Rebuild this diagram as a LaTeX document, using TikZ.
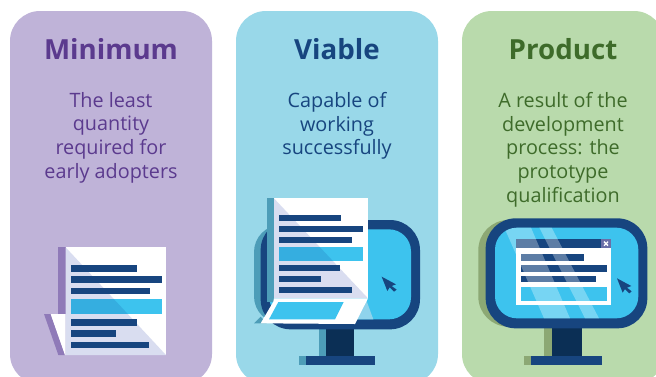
\documentclass[tikz,border=0pt]{standalone}
\usepackage{fontspec}
\setmainfont{Open Sans}
\definecolor{cardA}{HTML}{BFB3D8}
\definecolor{cardB}{HTML}{99D8E9}
\definecolor{cardC}{HTML}{B9DAAC}
\definecolor{navy}{HTML}{17457F}
\definecolor{dark}{HTML}{0B2F55}
\definecolor{cyanb}{HTML}{3DC3EE}
\definecolor{cyand}{HTML}{35AEE0}
\definecolor{palelav}{HTML}{D9DDF0}
\definecolor{stripA}{HTML}{8F7AB8}
\definecolor{shadB}{HTML}{4D9DB8}
\definecolor{shadC}{HTML}{8CA874}
\definecolor{wedge}{HTML}{8FD3EC}
\definecolor{closeb}{HTML}{6A6FA8}
\definecolor{titleA}{HTML}{5B3A8E}
\definecolor{titleC}{HTML}{3E6B2A}
\tikzset{
  card/.style={rounded corners=30pt},
  headtext/.style={font=\fontsize{27.7}{30}\selectfont\bfseries,anchor=center,inner sep=0pt},
  bodytext/.style={font=\fontsize{19.8}{23.7}\selectfont,align=center,anchor=north,inner sep=0pt},
  navybar/.style={fill=navy},
  cyanbar/.style={fill=cyanb},
  zoomA/.style={shift={(20,230)},x=0.33333pt,y=-0.33333pt},
  zoomB/.style={shift={(240,190)},x=0.33333pt,y=-0.33333pt},
  zoomC/.style={shift={(470,210)},x=0.33333pt,y=-0.33333pt},
}
\begin{document}
\begin{tikzpicture}[x=1pt,y=-1pt]
\useasboundingbox (0,0) rectangle (656,376);
\clip (0,0) rectangle (656,376);
\fill[white] (0,0) rectangle (656,376);
% cards
\fill[cardA,card] (10,11) rectangle (212,384);
\fill[cardB,card] (236,11) rectangle (438,384);
\fill[cardC,card] (462,11) rectangle (664,384);
% texts
\node[headtext,text=titleA] (t1) at (111,49) {Minimum};
\node[headtext,text=navy] (t2) at (337,49) {Viable};
\node[headtext,text=titleC] (t3) at (563,49) {Product};
\node[bodytext,text=titleA] (b1) at (111,92) {The least\\quantity\\required for\\early adopters};
\node[bodytext,text=navy] (b2) at (337,92) {Capable of\\working\\successfully};
\node[bodytext,text=titleC] (b3) at (563,92) {A result of the\\development\\process: the\\prototype\\qualification};
% document, card 1
\begin{scope}[zoomA]
\fill[stripA] (115,52) rectangle (137,252);
\fill[stripA] (72,252) -- (92,252) -- (135,375) -- (115,375) -- cycle;
\fill[white] (92,252) -- (137,252) -- (137,375) -- (135,375) -- cycle;
\fill[white] (137,52) rectangle (438,375);
\fill[palelav] (137,52) -- (438,375) -- (137,375) -- cycle;
\fill[navybar] (152,105) rectangle (352,125);
\fill[navybar] (152,139) rectangle (425,159);
\fill[navybar] (152,173) rectangle (389,193);
\fill[cyanbar] (152,207) rectangle (425,252);
\begin{scope}
\clip (137,52) -- (438,375) -- (137,375) -- cycle;
\fill[cyand] (152,207) rectangle (425,252);
\end{scope}
\fill[navybar] (152,267) rectangle (350,287);
\fill[navybar] (152,301) rectangle (288,321);
\fill[navybar] (152,335) rectangle (388,355);
\end{scope}
% monitor + document, card 2
\begin{scope}[zoomB]
\fill[shadB,rounded corners=27pt] (42,105) rectangle (300,400);
\fill[shadB] (42,400) -- (62,380) -- (80,400) -- cycle;
\fill[shadB] (238,418) rectangle (258,498);
\fill[shadB] (177,498) rectangle (197,525);
\fill[dark] (258,418) rectangle (343,498);
\fill[navybar] (197,498) rectangle (405,525);
\fill[navy,rounded corners=30pt] (62,90) rectangle (540,418);
\fill[cyanb,rounded corners=22pt] (88,118) rectangle (513,388);
\fill[wedge] (378,328) -- (400,388) -- (345,388) -- cycle;
\fill[navy] (425,260) -- (468,283) -- (455,288) -- (470,299) -- (462,305) -- (449,292) -- (442,303) -- cycle;
\fill[shadB] (80,25) rectangle (102,335);
\fill[white] (102,25) rectangle (384,325);
\fill[palelav] (102,25) -- (384,325) -- (102,325) -- cycle;
\fill[white] (100,335) -- (102,325) -- (384,325) -- (345,402) -- (62,400) -- cycle;
\fill[cyanb] (115,336) -- (311,336) -- (285,388) -- (87,388) -- cycle;
\fill[navybar] (117,75) rectangle (302,93);
\fill[navybar] (117,107) rectangle (370,126);
\fill[navybar] (117,140) rectangle (337,158);
\fill[cyanbar] (117,171) rectangle (370,212);
\begin{scope}
\clip (102,25) -- (384,325) -- (102,325) -- cycle;
\fill[cyand] (117,171) rectangle (370,212);
\end{scope}
\fill[navybar] (117,226) rectangle (301,244);
\fill[navybar] (117,259) rectangle (242,276);
\fill[navybar] (117,290) rectangle (336,308);
\end{scope}
% monitor, card 3
\begin{scope}[zoomC]
\fill[shadC,rounded corners=30pt] (25,30) rectangle (300,350);
\fill[shadC] (223,355) rectangle (245,438);
\fill[shadC] (162,438) rectangle (183,465);
\fill[dark] (245,355) rectangle (335,438);
\fill[navybar] (183,438) rectangle (395,465);
\fill[navy,rounded corners=30pt] (47,25) rectangle (532,355);
\fill[cyanb,rounded corners=22pt] (75,53) rectangle (505,325);
\fill[white] (137,87) rectangle (423,286);
\fill[navybar] (137,87) rectangle (423,115);
\fill[navybar] (152,133) rectangle (342,152);
\fill[navybar] (152,165) rectangle (410,185);
\fill[navybar] (152,198) rectangle (378,217);
\fill[cyanbar] (152,230) rectangle (410,272);
\begin{scope}
\clip[rounded corners=22pt] (75,53) rectangle (505,325);
\fill[white,opacity=0.3] (103,53) -- (183,53) -- (300,325) -- (222,325) -- cycle;
\fill[white,opacity=0.3] (208,53) -- (245,53) -- (387,325) -- (345,325) -- cycle;
\end{scope}
\fill[closeb] (393,87) rectangle (423,115);
\draw[white,line width=1.3pt] (402,95) -- (414,107) (414,95) -- (402,107);
\fill[navy] (441,205) -- (484,228) -- (471,233) -- (485,244) -- (478,250) -- (465,237) -- (458,248) -- cycle;
\end{scope}
\end{tikzpicture}
\end{document}
